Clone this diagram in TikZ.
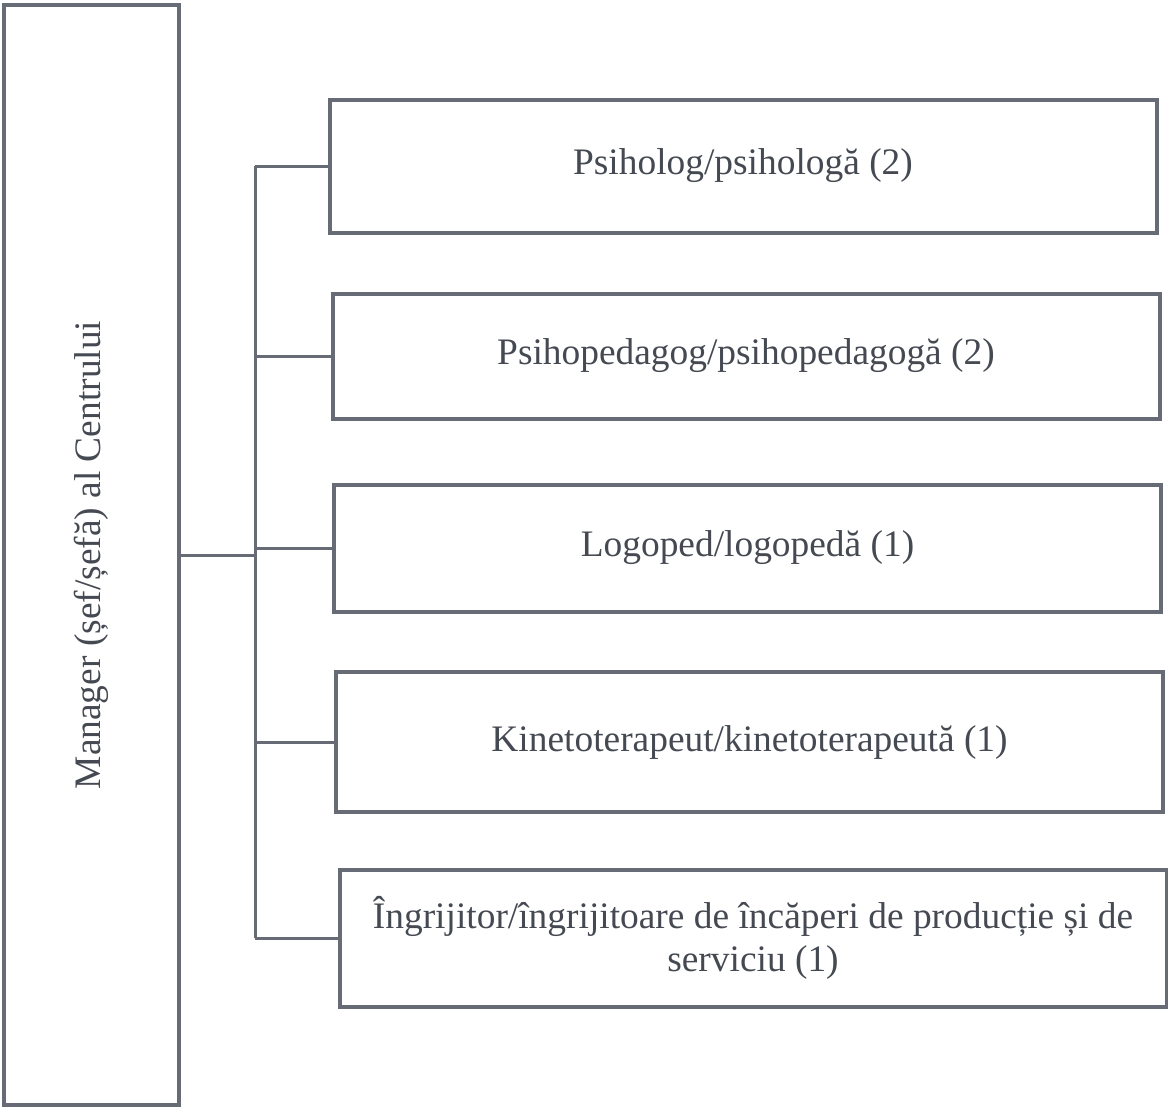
\documentclass[tikz,border=0pt]{standalone}
\usepackage{fontspec}
\setmainfont{Liberation Serif}
\usetikzlibrary{positioning}
\definecolor{scan}{HTML}{666B75}
\definecolor{ink}{HTML}{454952}
\newcommand{\txt}{\fontsize{18.7}{21.5}\selectfont}

\begin{document}
\begin{tikzpicture}[x=0.5pt,y=-0.5pt,
	post/.style={draw=scan,line width=2pt,minimum width=413.5pt,text=ink,font=\txt,align=center,inner sep=0pt},
	link/.style={draw=scan,line width=1.5pt}]
	\useasboundingbox (0,0) rectangle (1168,1114);
	% manager, rotated
	\node[post,rotate=90,minimum width=550pt,minimum height=87.5pt] (mgr) at (91,555) {Manager (șef/șefă) al Centrului};
	% staff
	\node[post,minimum height=66.5pt] (psi) at (743,166) {Psiholog/psihologă (2)};
	\node[post,minimum height=62.5pt] (ped) at (746,356) {Psihopedagog/psihopedagogă (2)};
	\node[post,minimum height=63.5pt] (logo) at (747.5,548) {Logoped/logopedă (1)};
	\node[post,minimum height=70pt] (kin) at (749.5,742) {Kinetoterapeut/kinetoterapeută (1)};
	\node[post,minimum height=68.5pt] (ingr) at (753,938) {Îngrijitor/îngrijitoare de încăperi de producție și de\\serviciu (1)};
	% connectors
	\coordinate (trunk) at (255,555);
	\draw[link] (mgr.south) -- (trunk);
	\draw[link] (trunk |- psi.west) -- (trunk |- ingr.west);
	\foreach \p in {psi,ped,logo,kin,ingr}
		\draw[link] (trunk |- \p.west) -- (\p.west);
\end{tikzpicture}
\end{document}
